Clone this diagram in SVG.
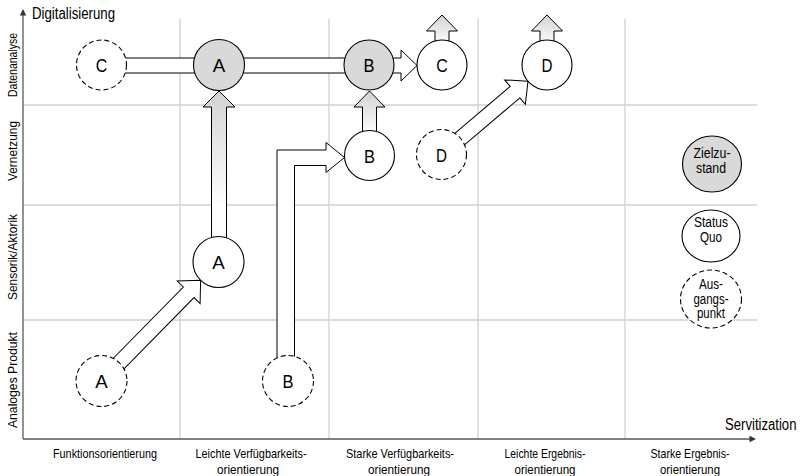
<svg xmlns="http://www.w3.org/2000/svg" width="802" height="476" viewBox="0 0 802 476">
<style>
text{font-family:"Liberation Sans Narrow","Arial Narrow","Liberation Sans",Arial,sans-serif;fill:#000}
.grid{stroke:#d0d0d0;stroke-width:1.3;fill:none}
.axis{stroke:#595959;stroke-width:1.3;fill:none}
.conn{stroke:#000;stroke-width:1;fill:#fff;stroke-linejoin:miter}
.grad{fill:url(#gv)}
.node{stroke:#000;stroke-width:1.1;fill:#fff}
.goal{fill:#d9d9d9}
.dash{stroke-dasharray:5 3}
.nl{font-size:18px;text-anchor:middle}
.lab{font-size:13px;text-anchor:middle}
.leg{font-size:14px;text-anchor:middle}
.ax{font-size:16px}
</style>
<defs>
<linearGradient id="gv" x1="0" y1="0" x2="0" y2="1">
<stop offset="0" stop-color="#d2d2d2"/>
<stop offset="1" stop-color="#ffffff"/>
</linearGradient>
<linearGradient id="gvl" x1="0" y1="0" x2="0" y2="1">
<stop offset="0" stop-color="#d2d2d2"/>
<stop offset="0.75" stop-color="#ffffff"/>
</linearGradient>
</defs>

<g id="grid">
<line class="grid" x1="180" y1="19" x2="180" y2="439"/>
<line class="grid" x1="329" y1="19" x2="329" y2="439"/>
<line class="grid" x1="478" y1="19" x2="478" y2="439"/>
<line class="grid" x1="625" y1="19" x2="625" y2="439"/>
<line class="grid" x1="23" y1="105" x2="757" y2="105"/>
<line class="grid" x1="23" y1="205" x2="757" y2="205"/>
<line class="grid" x1="23" y1="320" x2="757" y2="320"/>
</g>

<g id="axes">
<line class="axis" x1="23" y1="439" x2="23" y2="14"/>
<polygon points="23,9 19.8,15.5 26.2,15.5" fill="#333"/>
<line class="axis" x1="23" y1="439" x2="750" y2="439"/>
<polygon points="756,439 749.5,435.8 749.5,442.2" fill="#333"/>
<text class="ax" x="32" y="18.5" textLength="83" lengthAdjust="spacingAndGlyphs">Digitalisierung</text>
<text class="ax" transform="translate(725,430) scale(0.82,1)">Servitization</text>
</g>

<g id="row-labels">
<text class="lab" transform="translate(17,65) rotate(-90)" textLength="64" lengthAdjust="spacingAndGlyphs">Datenanalyse</text>
<text class="lab" transform="translate(17,151) rotate(-90)" textLength="60" lengthAdjust="spacingAndGlyphs">Vernetzung</text>
<text class="lab" transform="translate(17,257) rotate(-90)" textLength="86" lengthAdjust="spacingAndGlyphs">Sensorik/Aktorik</text>
<text class="lab" transform="translate(17,380) rotate(-90)" textLength="96" lengthAdjust="spacingAndGlyphs">Analoges Produkt</text>
</g>

<g id="column-labels">
<text class="lab" x="105" y="458" textLength="104" lengthAdjust="spacingAndGlyphs">Funktionsorientierung</text>
<text class="lab" x="251" y="458" textLength="111" lengthAdjust="spacingAndGlyphs">Leichte Verfügbarkeits-</text>
<text class="lab" x="248" y="474" textLength="62" lengthAdjust="spacingAndGlyphs">orientierung</text>
<text class="lab" x="400" y="458" textLength="108" lengthAdjust="spacingAndGlyphs">Starke Verfügbarkeits-</text>
<text class="lab" x="399" y="474" textLength="62" lengthAdjust="spacingAndGlyphs">orientierung</text>
<text class="lab" x="545" y="458" textLength="81" lengthAdjust="spacingAndGlyphs">Leichte Ergebnis-</text>
<text class="lab" x="545" y="474" textLength="61" lengthAdjust="spacingAndGlyphs">orientierung</text>
<text class="lab" x="690" y="458" textLength="79" lengthAdjust="spacingAndGlyphs">Starke Ergebnis-</text>
<text class="lab" x="690" y="474" textLength="60" lengthAdjust="spacingAndGlyphs">orientierung</text>
</g>

<g id="connectors">
<path class="conn" d="M110,58 H360 V73 H110 Z"/>
<path class="conn" d="M380,58 H401 V50 L417,65.5 L401,81 V73 H380 Z"/>
<path class="conn" style="fill:url(#gvl)" d="M211.5,245 V107 H203 L219,91 L235,107 H226.5 V245 Z"/>
<path class="conn grad" d="M362.5,135 V107 H354 L369.5,91 L385,107 H376.5 V135 Z"/>
<path class="conn grad" d="M435,45 V31 H426.5 L442,15 L457.5,31 H449 V45 Z"/>
<path class="conn grad" d="M540,45 V31 H531.5 L547,15 L562.5,31 H554 V45 Z"/>
<path class="conn" transform="translate(101.5,381) rotate(-45.5)" d="M20,-7.5 H124.4 V-16 L141.4,0 L124.4,16 V7.5 H20 Z"/>
<path class="conn" transform="translate(441.5,154.5) rotate(-40.3)" d="M20,-7.5 H96.4 V-16 L113.4,0 L96.4,16 V7.5 H20 Z"/>
<path class="conn" d="M277,370 V150 H326 V142.5 L344.5,157.5 L326,172.5 V165.5 H294.5 V370 Z"/>
</g>

<g id="node-C-start">
<circle class="node dash" cx="101.5" cy="65" r="25"/>
<text class="nl" x="101.5" y="72" textLength="11.5" lengthAdjust="spacingAndGlyphs">C</text>
</g>
<g id="node-A-goal">
<circle class="node goal" cx="219" cy="65" r="25.5"/>
<text class="nl" x="219" y="72" textLength="12.5" lengthAdjust="spacingAndGlyphs">A</text>
</g>
<g id="node-B-goal">
<circle class="node goal" cx="369" cy="65" r="25"/>
<text class="nl" x="369" y="72" textLength="11" lengthAdjust="spacingAndGlyphs">B</text>
</g>
<g id="node-C-status">
<circle class="node" cx="442" cy="65" r="25"/>
<text class="nl" x="442" y="72" textLength="11.5" lengthAdjust="spacingAndGlyphs">C</text>
</g>
<g id="node-D-status">
<circle class="node" cx="547" cy="65" r="25"/>
<text class="nl" x="547" y="72" textLength="11" lengthAdjust="spacingAndGlyphs">D</text>
</g>
<g id="node-B-status">
<circle class="node" cx="369.5" cy="155.5" r="25"/>
<text class="nl" x="369.5" y="162.5" textLength="11" lengthAdjust="spacingAndGlyphs">B</text>
</g>
<g id="node-D-start">
<circle class="node dash" cx="441.5" cy="154.5" r="25"/>
<text class="nl" x="441.5" y="161.5" textLength="11" lengthAdjust="spacingAndGlyphs">D</text>
</g>
<g id="node-A-status">
<circle class="node" cx="218.5" cy="262" r="25.5"/>
<text class="nl" x="218.5" y="269" textLength="12.5" lengthAdjust="spacingAndGlyphs">A</text>
</g>
<g id="node-A-start">
<circle class="node dash" cx="101.5" cy="381" r="25.5"/>
<text class="nl" x="101.5" y="388" textLength="12.5" lengthAdjust="spacingAndGlyphs">A</text>
</g>
<g id="node-B-start">
<circle class="node dash" cx="288" cy="381" r="25.5"/>
<text class="nl" x="288" y="388" textLength="11" lengthAdjust="spacingAndGlyphs">B</text>
</g>

<g id="legend-goal">
<ellipse class="node goal" cx="712" cy="164" rx="29.5" ry="28"/>
<text class="leg" x="712" y="158" textLength="37" lengthAdjust="spacingAndGlyphs">Zielzu-</text>
<text class="leg" x="711" y="172.5" textLength="30" lengthAdjust="spacingAndGlyphs">stand</text>
</g>
<g id="legend-status">
<ellipse class="node" cx="711" cy="236" rx="29" ry="26"/>
<text class="leg" x="711" y="227" textLength="34" lengthAdjust="spacingAndGlyphs">Status</text>
<text class="leg" x="711" y="241.5" textLength="22" lengthAdjust="spacingAndGlyphs">Quo</text>
</g>
<g id="legend-start">
<ellipse class="node dash" cx="711" cy="299" rx="30.5" ry="29"/>
<text class="leg" x="711" y="289" textLength="24" lengthAdjust="spacingAndGlyphs">Aus-</text>
<text class="leg" x="711" y="303.5" textLength="35" lengthAdjust="spacingAndGlyphs">gangs-</text>
<text class="leg" x="711" y="318" textLength="28" lengthAdjust="spacingAndGlyphs">punkt</text>
</g>
</svg>
